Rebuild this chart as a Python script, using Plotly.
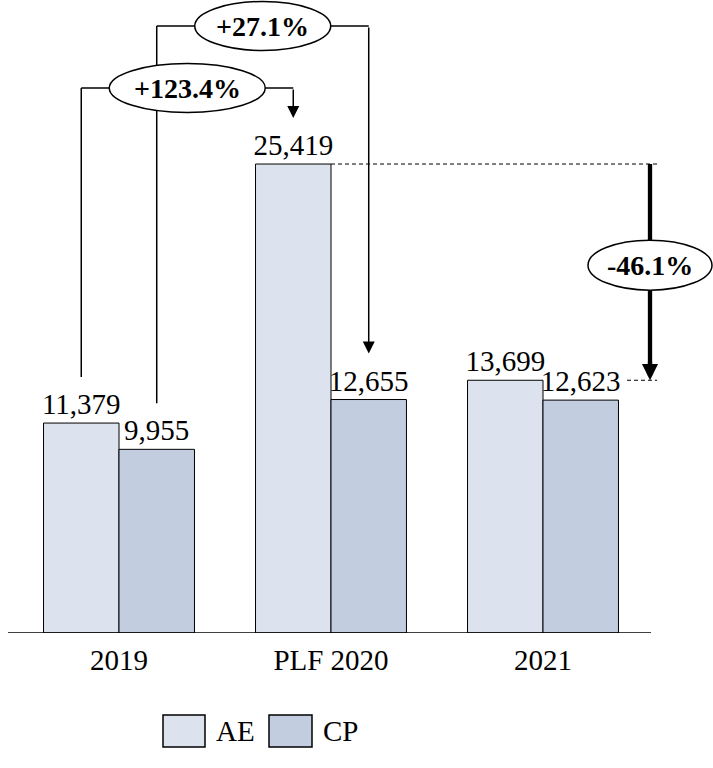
import plotly.graph_objects as go

# ---------------- data ----------------
categories = ["2019", "PLF 2020", "2021"]
ae_values = [11379, 25419, 13699]
cp_values = [9955, 12655, 12623]
series_names = ["AE", "CP"]
change_labels = ["+123.4%", "+27.1%", "-46.1%"]

# ---------------- style ----------------
AE_COLOR = "#dde3ee"
CP_COLOR = "#c3cde0"
FONT = "Liberation Serif"
W, H = 713, 768
MARGIN_B = 135
PLOT_H = H - MARGIN_B
Y_MAX = 34309
X_MIN, X_MAX = -0.5613, 2.8019
DX = (X_MAX - X_MIN) / W      # data units per pixel (x)
DY = Y_MAX / PLOT_H           # data units per pixel (y)
HALF = 0.178                  # offset of each bar centre from category centre

fig = go.Figure()
fig.add_trace(go.Bar(
    x=categories, y=ae_values, name=series_names[0],
    marker=dict(color=AE_COLOR, line=dict(color="black", width=1)),
    texttemplate="%{y:,}", textposition="outside", cliponaxis=False,
    constraintext="none", textfont=dict(family=FONT, size=29, color="black"),
))
fig.add_trace(go.Bar(
    x=categories, y=cp_values, name=series_names[1],
    marker=dict(color=CP_COLOR, line=dict(color="black", width=1)),
    texttemplate="%{y:,}", textposition="outside", cliponaxis=False,
    constraintext="none", textfont=dict(family=FONT, size=29, color="black"),
))

shapes = []
annotations = []
LW = 1.5
lift = 46 * DY

def seg(x0, y0, x1, y1, width=LW, dash="solid"):
    shapes.append(dict(type="line", xref="x", yref="y", x0=x0, y0=y0, x1=x1, y1=y1,
                       line=dict(color="black", width=width, dash=dash)))

def ellipse(cx, cy, hw, hh, text):
    shapes.append(dict(type="circle", xref="x", yref="y",
                       x0=cx - hw, x1=cx + hw, y0=cy - hh, y1=cy + hh,
                       fillcolor="white", line=dict(color="black", width=LW)))
    annotations.append(dict(x=cx, y=cy, xref="x", yref="y", text="<b>%s</b>" % text,
                            showarrow=False, font=dict(family=FONT, size=28, color="black")))

def head(x, y_tail, y_tip, width, size):
    annotations.append(dict(x=x, y=y_tip, ax=x, ay=y_tail, xref="x", yref="y",
                            axref="x", ayref="y", text="", showarrow=True,
                            arrowhead=2, arrowwidth=width, arrowsize=size,
                            arrowcolor="black"))

# connector 1: 2019 AE -> PLF 2020 AE
xa0, xa1 = 0 - HALF, 1 - HALF
level_a = (PLOT_H - 88) * DY
seg(xa0, ae_values[0] + lift, xa0, level_a)
seg(xa0, level_a, xa1, level_a)
head(xa1, level_a, ae_values[1] + lift, LW, 1.6)

# connector 2: 2019 CP -> PLF 2020 CP
xb0, xb1 = 0 + HALF, 1 + HALF
level_b = (PLOT_H - 26) * DY
seg(xb0, cp_values[0] + lift, xb0, level_b)
seg(xb0, level_b, xb1, level_b)
head(xb1, level_b, cp_values[1] + lift, LW, 1.6)

# right side: PLF 2020 AE -> 2021 AE
x_arrow = 1 + (650 - 331) * DX
seg(1, ae_values[1], 1 + (658 - 331) * DX, ae_values[1], width=1, dash="4px,3px")
seg(1 + (627 - 331) * DX, ae_values[2], 1 + (657 - 331) * DX, ae_values[2], width=1, dash="4px,3px")
seg(x_arrow, ae_values[1], x_arrow, ae_values[2] + 14 * DY, width=4.3)
head(x_arrow, ae_values[2] + 20 * DY, ae_values[2], 4.3, 0.75)

# ellipses (drawn after the lines so they sit on top)
ellipse((xa0 + xa1) / 2, level_a, 78 * DX, 24.5 * DY, change_labels[0])
ellipse((xb0 + xb1) / 2, level_b, 68 * DX, 24.5 * DY, change_labels[1])
ellipse(x_arrow, (ae_values[1] + ae_values[2]) / 2 + 7 * DY, 62 * DX, 25 * DY, change_labels[2])

# baseline axis line
seg(-0.5 - 5 * DX, 0, 2 + 0.5 + 2 * DX, 0, width=1.5)

# manual legend (large swatches)
def px_x(p):
    return p / W

def px_y(p):
    return (PLOT_H - p) / PLOT_H

legend_items = [(series_names[0], AE_COLOR, 163, 205, 214), (series_names[1], CP_COLOR, 269, 312, 321)]
for name, col, bx0, bx1, tx in legend_items:
    shapes.append(dict(type="rect", xref="paper", yref="paper",
                       x0=px_x(bx0), x1=px_x(bx1), y0=px_y(747), y1=px_y(715),
                       fillcolor=col, line=dict(color="black", width=1.5)))
    annotations.append(dict(x=px_x(tx), y=px_y(731), xref="paper", yref="paper",
                            text=name, showarrow=False, xanchor="left", yanchor="middle",
                            font=dict(family=FONT, size=29, color="black")))

fig.update_layout(
    width=W, height=H,
    margin=dict(l=0, r=0, t=0, b=MARGIN_B),
    paper_bgcolor="white", plot_bgcolor="white",
    barmode="group", bargap=0.288, bargroupgap=0,
    showlegend=False,
    shapes=shapes, annotations=annotations,
    font=dict(family=FONT, size=29, color="black"),
    xaxis=dict(type="category", range=[X_MIN, X_MAX], showgrid=False, showline=False,
               zeroline=False, ticks="", ticklabelstandoff=7,
               tickfont=dict(family=FONT, size=29, color="black")),
    yaxis=dict(range=[0, Y_MAX], visible=False, showgrid=False, zeroline=False),
)

fig.write_html("out.html", config={"displayModeBar": False},
               post_script="document.body.style.margin='0px';")
